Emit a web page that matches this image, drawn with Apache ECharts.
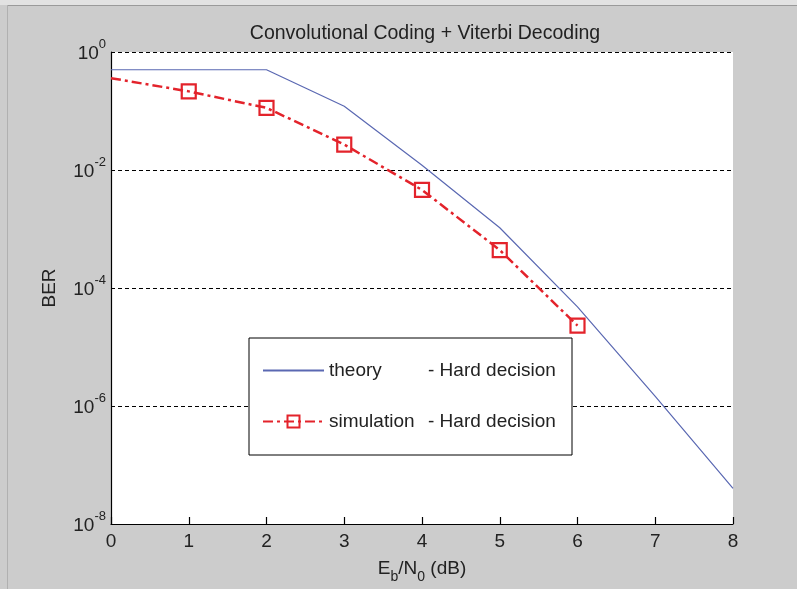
<!DOCTYPE html>
<html>
<head>
<meta charset="utf-8">
<script src="https://cdn.jsdelivr.net/npm/echarts@6/dist/echarts.min.js"></script>
<style>
html,body{margin:0;padding:0;background:#cccccc;}
#chart{width:797px;height:589px;}
</style>
</head>
<body>
<div id="chart"></div>
<script>
// Data
const titleText = 'Convolutional Coding + Viterbi Decoding';
const theoryEbN0 = [0, 1, 2, 3, 4, 5, 6, 7, 8];
const theoryBER = [0.5, 0.5, 0.5, 0.12, 0.012, 1.05e-3, 4.8e-5, 1.45e-6, 4.0e-8];
const simEbN0 = [0, 1, 2, 3, 4, 5, 6];
const simBER = [0.36, 0.215, 0.113, 0.027, 4.6e-3, 4.4e-4, 2.3e-5];
const seriesNames = ['theory', 'simulation'];
const legendSuffix = '- Hard decision';
const xTicks = [0, 1, 2, 3, 4, 5, 6, 7, 8];

const FONT = '"Liberation Sans", Arial, sans-serif';
const RED = '#e3232b';
const BLUE = '#5a68b2';

const theoryData = theoryEbN0.map((x, i) => [x, theoryBER[i]]);
const simData = simEbN0.map((x, i) => i === 0 ? { value: [x, simBER[i]], symbol: 'none' } : [x, simBER[i]]);

const chart = echarts.init(document.getElementById('chart'), null, { renderer: 'canvas' });
chart.setOption({
  backgroundColor: '#cccccc',
  animation: false,
  title: {
    text: titleText,
    left: 420, top: 19, textAlign: 'center',
    textStyle: { fontFamily: FONT, fontSize: 19.5, fontWeight: 'normal', color: '#222' }
  },
  graphic: [
    { type: 'rect', shape: { x: 0, y: 0, width: 797, height: 5 }, style: { fill: '#e2e2e2' }, silent: true },
    { type: 'line', shape: { x1: 7, y1: 5.5, x2: 797, y2: 5.5 }, style: { stroke: '#9a9a9a', lineWidth: 1 }, silent: true },
    { type: 'line', shape: { x1: 7.5, y1: 5, x2: 7.5, y2: 589 }, style: { stroke: '#b0b0b0', lineWidth: 1 }, silent: true }
  ],
  grid: { left: 111, top: 52, right: 64, bottom: 62, backgroundColor: '#ffffff', show: true, borderWidth: 0 },
  legend: {
    left: 249, top: 338,
    orient: 'vertical',
    backgroundColor: '#ffffff',
    borderColor: '#000', borderWidth: 1,
    padding: [23, 12, 24, 13],
    itemGap: 32,
    itemWidth: 61, itemHeight: 15,
    data: [
      { name: seriesNames[0], itemStyle: { opacity: 0 } },
      { name: seriesNames[1] }
    ],
    formatter: name => '{a|' + name + '}{b|' + legendSuffix + '}',
    textStyle: {
      fontFamily: FONT, fontSize: 19, color: '#222',
      rich: {
        a: { fontFamily: FONT, fontSize: 19, color: '#222', width: 99, lineHeight: 22 },
        b: { fontFamily: FONT, fontSize: 19, color: '#222', width: 132, lineHeight: 22 }
      }
    }
  },
  xAxis: {
    type: 'value', min: 0, max: 8, interval: 1,
    name: '{n|E}{s|b}{n|/N}{s|0}{n| (dB)}',
    nameLocation: 'middle', nameGap: 38,
    nameTextStyle: {
      rich: {
        n: { fontFamily: FONT, fontSize: 19, color: '#222', verticalAlign: 'bottom', lineHeight: 22, padding: [0, 0, 6, 0] },
        s: { fontFamily: FONT, fontSize: 14, color: '#222', verticalAlign: 'bottom', lineHeight: 22 }
      }
    },
    axisLine: { show: true, onZero: false, lineStyle: { color: '#000', width: 1.2 } },
    axisTick: { show: true, inside: true, length: 7, lineStyle: { color: '#000', width: 1.2 }, customValues: xTicks },
    axisLabel: { fontFamily: FONT, fontSize: 19, color: '#222', margin: 8 },
    splitLine: { show: false }
  },
  yAxis: {
    type: 'log', logBase: 10, min: 1e-8, max: 1, interval: 2,
    name: 'BER', nameLocation: 'middle', nameRotate: 90, nameGap: 52,
    nameTextStyle: { fontFamily: FONT, fontSize: 19, color: '#222' },
    axisLine: { show: true, lineStyle: { color: '#000', width: 1.2 } },
    axisTick: { show: false },
    axisLabel: {
      margin: 5,
      formatter: v => '{b|10}{s|' + Math.round(Math.log10(v)) + '}',
      rich: {
        b: { fontFamily: FONT, fontSize: 19, color: '#222', verticalAlign: 'bottom', lineHeight: 22 },
        s: { fontFamily: FONT, fontSize: 13, color: '#222', verticalAlign: 'bottom', lineHeight: 22, padding: [0, 0, 12, 0] }
      }
    },
    minorTick: { show: false },
    splitLine: { show: true, lineStyle: { color: '#000', type: [4, 3], width: 1.2 } }
  },
  series: [
    {
      name: seriesNames[0], type: 'line', data: theoryData,
      showSymbol: false, symbol: 'none',
      lineStyle: { color: BLUE, width: 1.2 },
      itemStyle: { color: BLUE }
    },
    {
      name: seriesNames[1], type: 'line', data: simData,
      symbol: 'rect', symbolSize: 14,
      lineStyle: { color: RED, width: 2.5, type: [10, 4, 3, 4] },
      itemStyle: { color: 'rgba(255,255,255,0)', borderColor: RED, borderWidth: 2.2 }
    }
  ]
});
</script>
</body>
</html>
